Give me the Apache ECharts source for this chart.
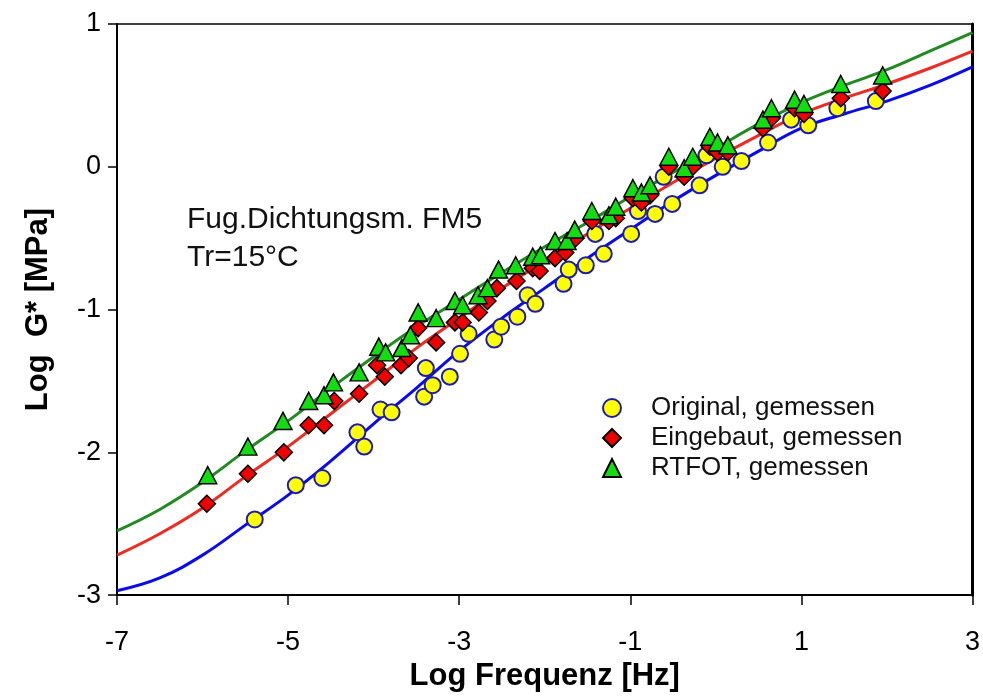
<!DOCTYPE html>
<html>
<head>
<meta charset="utf-8">
<script src="https://cdn.jsdelivr.net/npm/echarts@6/dist/echarts.min.js"></script>
<style>html,body{margin:0;padding:0;background:#fff;}#c{width:983px;height:697px;}</style>
</head>
<body>
<div id="c"></div>
<script>
// ---- data ----
const xTicks = [-7, -5, -3, -1, 1, 3];
const yTicks = [-3, -2, -1, 0, 1];

const originalX = [-5.39,-4.91,-4.60,-4.19,-4.11,-3.92,-3.79,-3.41,-3.39,-3.31,-3.11,-2.99,-2.89,-2.59,-2.51,-2.32,-2.20,-2.11,-1.78,-1.72,-1.52,-1.41,-1.31,-0.99,-0.91,-0.71,-0.61,-0.51,-0.19,-0.11,0.08,0.30,0.61,0.88,1.08,1.42,1.87];
const originalY = [-2.47,-2.23,-2.18,-1.86,-1.96,-1.70,-1.72,-1.61,-1.41,-1.53,-1.47,-1.31,-1.17,-1.21,-1.12,-1.05,-0.90,-0.96,-0.82,-0.72,-0.69,-0.47,-0.61,-0.47,-0.31,-0.33,-0.07,-0.26,-0.13,0.08,0.00,0.04,0.17,0.33,0.29,0.41,0.46];

const eingebautX = [-5.95,-5.47,-5.05,-4.76,-4.58,-4.46,-4.17,-3.96,-3.87,-3.68,-3.59,-3.48,-3.27,-3.05,-2.96,-2.77,-2.67,-2.56,-2.33,-2.14,-2.06,-1.88,-1.76,-1.64,-1.45,-1.25,-1.17,-0.97,-0.87,-0.77,-0.55,-0.37,-0.27,-0.07,0.02,0.14,0.55,0.65,0.92,1.03,1.46,1.95];
const eingebautY = [-2.36,-2.15,-2.00,-1.81,-1.81,-1.64,-1.59,-1.39,-1.47,-1.39,-1.34,-1.13,-1.23,-1.09,-1.09,-1.02,-0.94,-0.85,-0.80,-0.71,-0.73,-0.64,-0.60,-0.50,-0.38,-0.38,-0.36,-0.22,-0.25,-0.20,0.00,-0.07,0.00,0.14,0.10,0.10,0.27,0.34,0.41,0.37,0.48,0.53];

const rtfotX = [-5.94,-5.47,-5.06,-4.76,-4.58,-4.47,-4.17,-3.94,-3.86,-3.67,-3.57,-3.48,-3.27,-3.05,-2.96,-2.78,-2.67,-2.54,-2.34,-2.14,-2.05,-1.88,-1.74,-1.65,-1.45,-1.25,-1.17,-0.97,-0.87,-0.77,-0.55,-0.37,-0.27,-0.07,0.02,0.14,0.55,0.65,0.92,1.03,1.46,1.95];
const rtfotY = [-2.16,-1.96,-1.78,-1.64,-1.60,-1.51,-1.44,-1.26,-1.30,-1.27,-1.18,-1.02,-1.06,-0.94,-0.97,-0.90,-0.85,-0.72,-0.69,-0.63,-0.62,-0.52,-0.52,-0.44,-0.31,-0.34,-0.28,-0.15,-0.18,-0.13,0.07,-0.01,0.07,0.21,0.17,0.15,0.33,0.41,0.47,0.44,0.58,0.64];

const fitX = [-7,-6.5,-6,-5.5,-5,-4.5,-4,-3.5,-3,-2.5,-2,-1.5,-1,-0.5,0,0.5,1,1.5,2,2.5,3];
const fitOriginal  = [-2.97,-2.88,-2.72,-2.51,-2.30,-2.06,-1.80,-1.55,-1.29,-1.06,-0.85,-0.64,-0.44,-0.24,-0.06,0.11,0.27,0.37,0.46,0.57,0.70];
const fitEingebaut = [-2.72,-2.57,-2.39,-2.17,-1.96,-1.73,-1.50,-1.27,-1.06,-0.85,-0.66,-0.47,-0.29,-0.11,0.06,0.22,0.37,0.48,0.58,0.69,0.81];
const fitRtfot     = [-2.55,-2.40,-2.21,-1.99,-1.78,-1.55,-1.33,-1.12,-0.93,-0.74,-0.56,-0.39,-0.21,-0.04,0.13,0.30,0.45,0.57,0.68,0.81,0.94];

const legendNames = ['Original, gemessen', 'Eingebaut, gemessen', 'RTFOT, gemessen'];
const noteText = 'Fug.Dichtungsm. FM5\nTr=15°C';
const xTitle = 'Log Frequenz [Hz]';
const yTitle = 'Log  G* [MPa]';

// ---- build ----
const zip = (xs, ys) => xs.map((x, i) => [x, ys[i]]);
const FONT = "'Liberation Sans', Arial, sans-serif";

const chart = echarts.init(document.getElementById('c'), null, {renderer: 'canvas'});
chart.setOption({
  animation: false,
  backgroundColor: '#fff',
  title: {
    text: noteText, left: 182, top: 196,
    textStyle: {fontFamily: FONT, fontSize: 30, fontWeight: 'normal', color: '#111', lineHeight: 38}
  },
  legend: {
    data: legendNames, orient: 'vertical', left: 597, top: 388,
    itemWidth: 18, itemHeight: 18, itemGap: 0,
    textStyle: {fontFamily: FONT, fontSize: 26, color: '#111', lineHeight: 30, padding: [0, 0, 0, 25]}
  },
  grid: {left: 117, right: 6, top: 24, bottom: 97, show: true, borderColor: '#000', borderWidth: 1.5, containLabel: false},
  xAxis: {
    type: 'value', min: xTicks[0], max: xTicks[xTicks.length - 1], interval: 2,
    name: xTitle, nameLocation: 'middle', nameGap: 60,
    nameTextStyle: {fontFamily: FONT, fontSize: 31, fontWeight: 'bold', color: '#000'},
    axisLine: {show: true, onZero: false, lineStyle: {color: '#000', width: 2}},
    axisTick: {show: true, inside: false, length: 10, lineStyle: {color: '#000', width: 1.5}},
    axisLabel: {fontFamily: FONT, fontSize: 27, color: '#000', margin: 34, showMinLabel: true, showMaxLabel: true,
      formatter: v => String(v)},
    splitLine: {show: false}
  },
  yAxis: [{
    type: 'value', min: yTicks[0], max: yTicks[yTicks.length - 1], interval: 1,
    name: yTitle, nameLocation: 'middle', nameGap: 63, nameRotate: 90,
    nameTextStyle: {fontFamily: FONT, fontSize: 31, fontWeight: 'bold', color: '#000'},
    axisLine: {show: true, onZero: false, lineStyle: {color: '#000', width: 2}},
    axisTick: {show: true, inside: false, length: 9, lineStyle: {color: '#000', width: 1.5}},
    axisLabel: {fontFamily: FONT, fontSize: 27, color: '#000', margin: 16, showMinLabel: true, showMaxLabel: true,
      formatter: v => String(v)},
    splitLine: {show: false}
  }, {
    type: 'value', position: 'right', min: yTicks[0], max: yTicks[yTicks.length - 1], interval: 1,
    axisLine: {show: true, onZero: false, lineStyle: {color: '#000', width: 3}},
    axisTick: {show: false}, axisLabel: {show: false}, splitLine: {show: false}
  }],
  series: [
    {type: 'line', name: 'fitO', data: zip(fitX, fitOriginal), smooth: 0.4, symbol: 'none',
      lineStyle: {color: '#0a0aee', width: 3}, z: 2},
    {type: 'line', name: 'fitE', data: zip(fitX, fitEingebaut), smooth: 0.4, symbol: 'none',
      lineStyle: {color: '#ee2a22', width: 3}, z: 2},
    {type: 'line', name: 'fitR', data: zip(fitX, fitRtfot), smooth: 0.4, symbol: 'none',
      lineStyle: {color: '#228a22', width: 3}, z: 2},
    {type: 'scatter', name: legendNames[0], data: zip(originalX, originalY), symbol: 'circle', symbolSize: 16,
      itemStyle: {color: '#ffff00', borderColor: '#1c1ca8', borderWidth: 2, opacity: 1}, z: 3},
    {type: 'scatter', name: legendNames[1], data: zip(eingebautX, eingebautY), symbol: 'diamond', symbolSize: 17,
      itemStyle: {color: '#ee0000', borderColor: '#000', borderWidth: 1.5, opacity: 1}, z: 4},
    {type: 'scatter', name: legendNames[2], data: zip(rtfotX, rtfotY), symbol: 'triangle', symbolSize: [18, 17],
      itemStyle: {color: '#11dd11', borderColor: '#000', borderWidth: 1.5, opacity: 1}, z: 5}
  ]
});
</script>
</body>
</html>
